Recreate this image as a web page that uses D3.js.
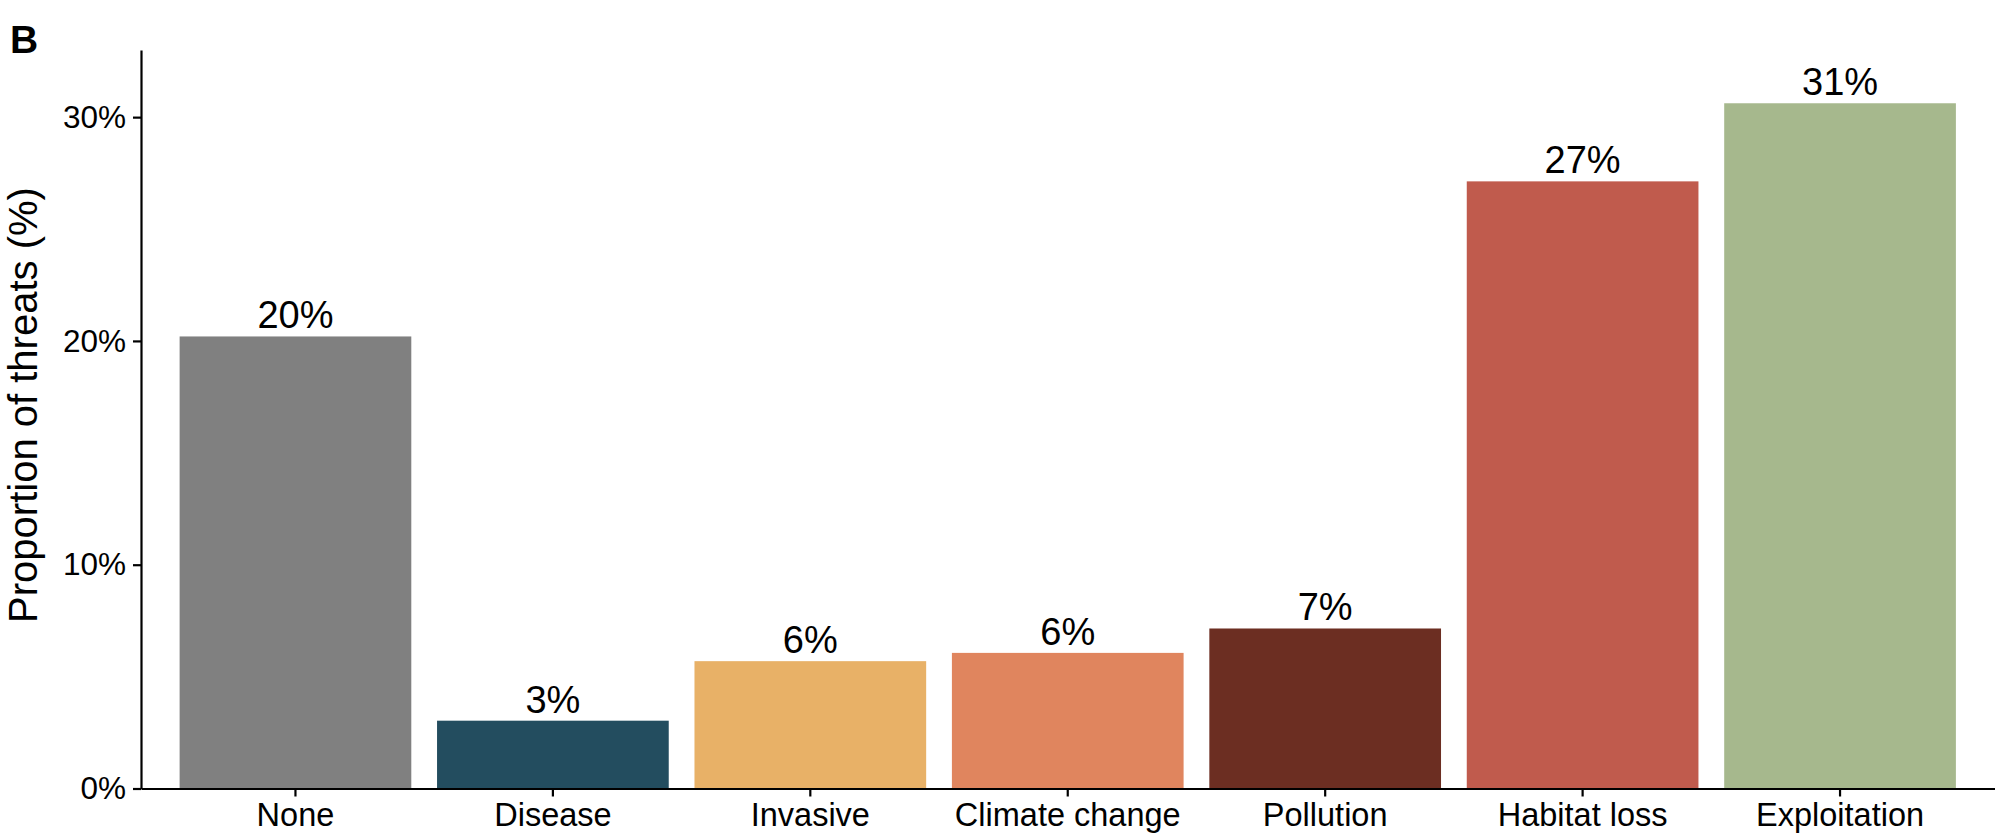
<!DOCTYPE html>
<html>
<head>
<meta charset="utf-8">
<script src="https://cdn.jsdelivr.net/npm/d3@7"></script>
<style>
  body { margin: 0; background: #fff; }
  svg { display: block; font-family: "Liberation Sans", Arial, sans-serif; }
  .axis path, .axis line { stroke: #000; stroke-width: 2.2px; }
  .axis text { fill: #000; }
</style>
</head>
<body>
<svg id="chart" width="2000" height="837"></svg>
<script>
// threat categories, share of threats (fraction) and bar fills
var categories = ['None', 'Disease', 'Invasive', 'Climate change', 'Pollution', 'Habitat loss', 'Exploitation'];
var shares = [0.2020, 0.0303, 0.0569, 0.0606, 0.0715, 0.2713, 0.3062];
var fills = ['#808080', '#234d5f', '#e8b167', '#e0855e', '#6c2e22', '#c05b4d', '#a6b88d'];
var yTicks = [0, 0.1, 0.2, 0.3];

var svg = d3.select('#chart');

var x = d3.scaleBand()
    .domain(categories)
    .range([141, 1994.5])
    .paddingInner(0.1)
    .paddingOuter(0.15);

var y = d3.scaleLinear()
    .domain([0, 0.33])
    .range([788.5, 50]);

var pct = function(d) { return Math.round(d * 100) + '%'; };

// bars
svg.append('g').selectAll('rect')
    .data(categories)
  .enter().append('rect')
    .attr('x', function(d) { return x(d); })
    .attr('width', x.bandwidth())
    .attr('y', function(d, i) { return y(shares[i]); })
    .attr('height', function(d, i) { return y(0) - y(shares[i]); })
    .style('fill', function(d, i) { return fills[i]; });

// value labels above bars
svg.append('g').selectAll('text')
    .data(categories)
  .enter().append('text')
    .attr('x', function(d) { return x(d) + x.bandwidth() / 2; })
    .attr('y', function(d, i) { return y(shares[i]) - 8; })
    .attr('text-anchor', 'middle')
    .style('font-size', '38px')
    .text(function(d, i) { return pct(shares[i]); });

// axes
var yAxis = svg.append('g')
    .attr('class', 'axis')
    .attr('transform', 'translate(141,0)')
    .call(d3.axisLeft(y).tickValues(yTicks).tickFormat(pct)
        .tickSize(8).tickSizeOuter(0).tickPadding(7));
yAxis.selectAll('text').style('font-size', '31.5px');

var xAxis = svg.append('g')
    .attr('class', 'axis')
    .attr('transform', 'translate(0,788.5)')
    .call(d3.axisBottom(x).tickSize(8).tickSizeOuter(0).tickPadding(0));
xAxis.selectAll('text')
    .attr('dy', null)
    .attr('y', 37.5)
    .style('font-size', '32.5px');

// axis title (nudged right so the whole glyph box stays inside the frame)
svg.append('text')
    .attr('transform', 'translate(37,405) rotate(-90)')
    .attr('text-anchor', 'middle')
    .style('font-size', '40px')
    .text('Proportion of threats (%)');

// panel tag
svg.append('text')
    .attr('x', 10)
    .attr('y', 53)
    .style('font-size', '39px')
    .style('font-weight', 'bold')
    .text('B');
</script>
</body>
</html>
